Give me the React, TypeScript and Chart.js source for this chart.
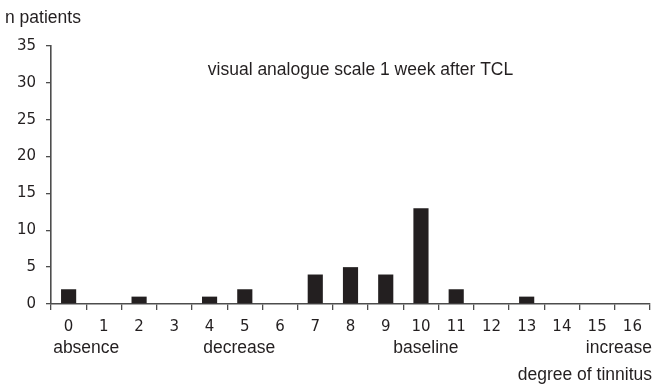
import React, { useEffect, useRef } from "react";
import { Chart, registerables } from "chart.js";

Chart.register(...registerables);

const categories = ["0", "1", "2", "3", "4", "5", "6", "7", "8", "9", "10", "11", "12", "13", "14", "15", "16"];
const patients = [2, 0, 1, 0, 1, 2, 0, 4, 5, 4, 13, 2, 0, 1, 0, 0, 0];
const yTicks = [0, 5, 10, 15, 20, 25, 30, 35];
const subLabels = [
  { text: "absence", at: 1.0, align: "center" },
  { text: "decrease", at: 5.34, align: "center" },
  { text: "baseline", at: 10.64, align: "center" },
  { text: "increase", at: 17, align: "right" },
];
const chartTitle = "visual analogue scale 1 week after TCL";
const yTitle = "n patients";
const xTitle = "degree of tinnitus";

const FONT = "'Liberation Sans', Arial, Helvetica, sans-serif";
const TICK_FONT = "'DejaVu Sans', 'Liberation Sans', sans-serif";
const INK = "#231f20";
const AXIS = "#4d4d4d";

export default function App() {
  const ref = useRef<HTMLCanvasElement>(null);
  useEffect(() => {
    if (!ref.current) return;
    const extras = {
      id: "extras",
      afterDraw(chart: any) {
        const ctx = chart.ctx;
        const area = chart.chartArea;
        ctx.save();
        ctx.fillStyle = INK;
        ctx.font = `17.5px ${FONT}`;
        ctx.textBaseline = "alphabetic";
        ctx.textAlign = "left";
        ctx.fillText(yTitle, 5, 23);
        ctx.textAlign = "center";
        ctx.fillText(chartTitle, 360.5, 75);
        const step = (area.right - area.left) / categories.length;
        subLabels.forEach((s) => {
          ctx.textAlign = s.align;
          let px = area.left + step * s.at;
          if (s.align === "right") px = area.right + 2;
          ctx.fillText(s.text, px, 352.5);
        });
        ctx.textAlign = "right";
        ctx.fillText(xTitle, area.right + 2, 380);
        ctx.restore();
      },
    };
    const chart = new Chart(ref.current, {
      type: "bar",
      data: {
        labels: categories,
        datasets: [
          {
            data: patients,
            backgroundColor: INK,
            barPercentage: 0.43,
            categoryPercentage: 1,
          },
        ],
      },
      options: {
        animation: false,
        responsive: false,
        maintainAspectRatio: false,
        layout: { padding: { top: 46, left: 0, right: 5, bottom: 0 } },
        plugins: { legend: { display: false }, tooltip: { enabled: false }, title: { display: false } },
        scales: {
          x: {
            offset: true,
            grid: { display: true, drawOnChartArea: false, offset: true, tickLength: 6, color: AXIS, lineWidth: 1.3 },
            border: { display: true, color: AXIS, width: 1.6 },
            ticks: { color: INK, font: { family: TICK_FONT, size: 15 }, padding: 8, maxRotation: 0, autoSkip: false },
            afterFit: (s: any) => {
              s.height = 83;
            },
          },
          y: {
            min: 0,
            max: 35,
            afterBuildTicks: (s: any) => {
              s.ticks = yTicks.map((v) => ({ value: v }));
            },
            grid: { display: true, drawOnChartArea: false, tickLength: 5, color: AXIS, lineWidth: 1.3 },
            border: { display: true, color: AXIS, width: 1.6 },
            ticks: { color: INK, font: { family: TICK_FONT, size: 15 }, padding: 10 },
            afterFit: (s: any) => {
              s.width = 51;
            },
          },
        },
      },
      plugins: [extras],
    });
    return () => chart.destroy();
  }, []);
  return (
    <div style={{ position: "fixed", left: 0, top: 0, width: 655, height: 387, background: "#fff" }}>
      <canvas ref={ref} width={655} height={387} style={{ width: 655, height: 387 }} />
    </div>
  );
}
